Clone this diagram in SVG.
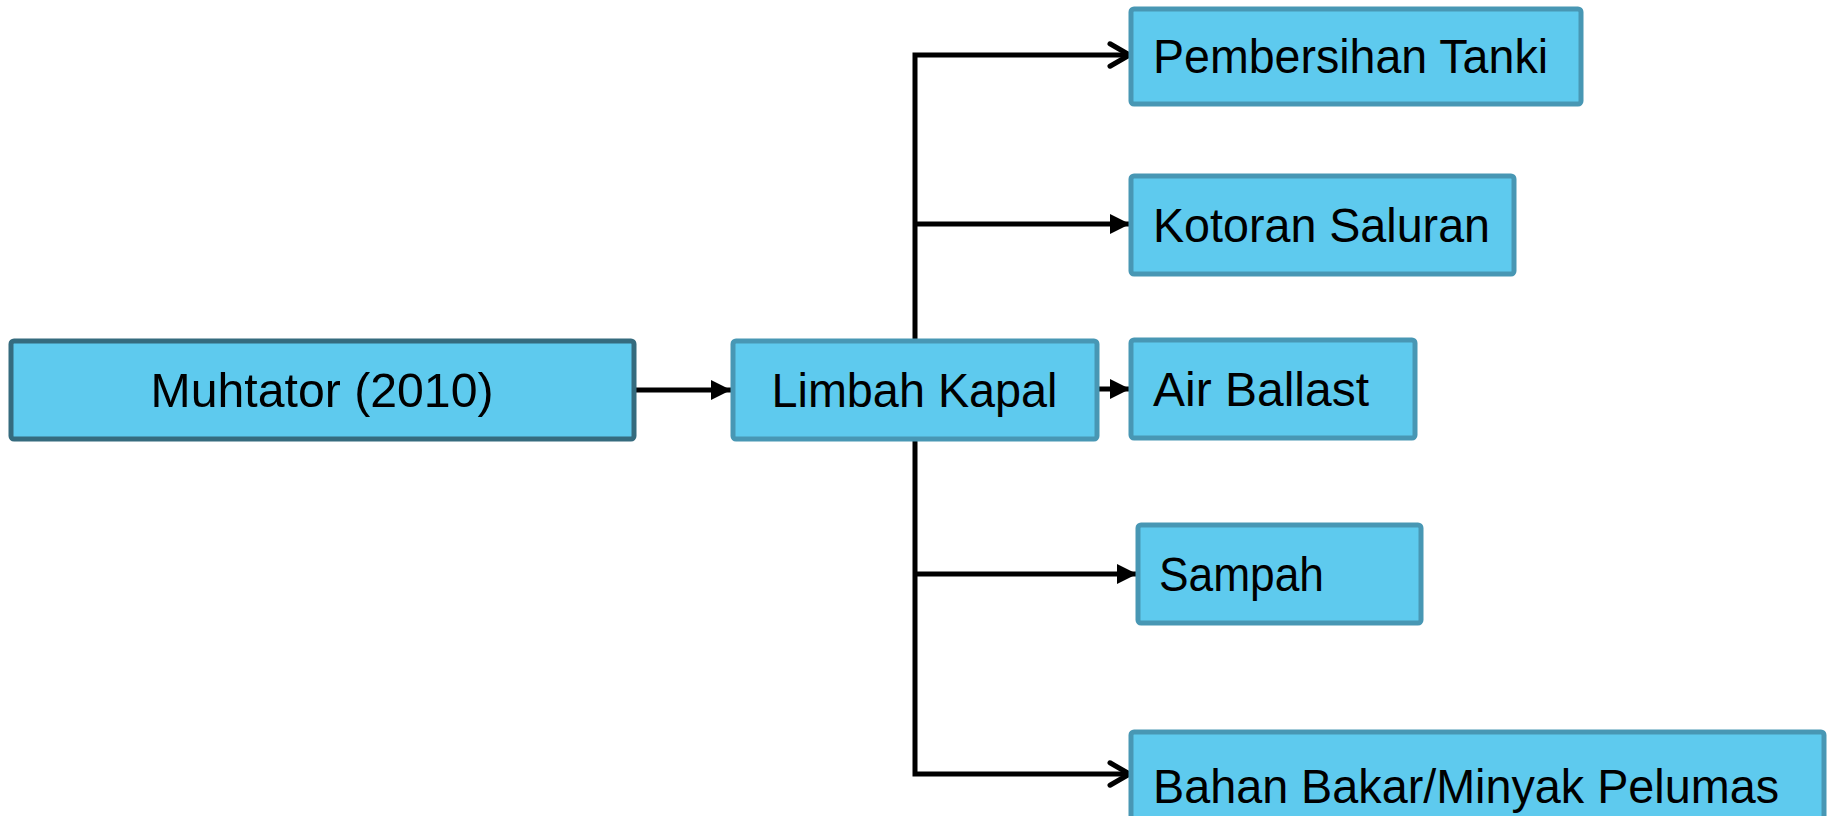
<svg xmlns="http://www.w3.org/2000/svg" width="1832" height="816" viewBox="0 0 1832 816">
  <style>
    .box { fill: #5ECAEE; stroke: #4897B4; stroke-width: 5; }
    .box.dark { stroke: #356B7E; }
    .lbl { font-family: "Liberation Sans", "DejaVu Sans", sans-serif; font-size: 48px; fill: #000; }
    .ln { fill: none; stroke: #000; stroke-width: 5; }
  </style>
  <defs>
    <!-- filled triangular head -->
    <marker id="tri" viewBox="0 0 10 10" refX="10" refY="5" markerWidth="4.2" markerHeight="4" markerUnits="strokeWidth" orient="auto">
      <path d="M0,0 L10,5 L0,10 Z" fill="#000"/>
    </marker>
    <!-- open chevron head -->
    <marker id="open" viewBox="0 0 12 12" refX="10.5" refY="6" markerWidth="6" markerHeight="6" markerUnits="strokeWidth" orient="auto">
      <path d="M2.5,1.5 L10.3,6 L2.5,10.5" fill="none" stroke="#000" stroke-width="2" stroke-linecap="round" stroke-linejoin="round"/>
    </marker>
  </defs>

  <rect width="1832" height="816" fill="#fff"/>

  <g id="connectors">
    <line class="ln" x1="634" y1="390" x2="731" y2="390" marker-end="url(#tri)"/>
    <line class="ln" x1="1097" y1="389" x2="1130" y2="389" marker-end="url(#tri)"/>
    <path class="ln" d="M915,341 V55 H1130" marker-end="url(#open)"/>
    <line class="ln" x1="915" y1="224" x2="1130" y2="224" marker-end="url(#tri)"/>
    <line class="ln" x1="915" y1="574" x2="1137" y2="574" marker-end="url(#tri)"/>
    <path class="ln" d="M915,439 V774 H1130" marker-end="url(#open)"/>
  </g>

  <g id="node-muhtator">
    <rect class="box dark" x="11" y="341" width="623" height="98" rx="3"/>
    <text class="lbl" x="322" y="407" text-anchor="middle" textLength="343" lengthAdjust="spacingAndGlyphs">Muhtator (2010)</text>
  </g>
  <g id="node-limbah-kapal">
    <rect class="box" x="733" y="341" width="364" height="98" rx="3"/>
    <text class="lbl" x="914.5" y="407" text-anchor="middle" textLength="286" lengthAdjust="spacingAndGlyphs">Limbah Kapal</text>
  </g>
  <g id="node-pembersihan-tanki">
    <rect class="box" x="1131" y="9" width="450" height="95" rx="3"/>
    <text class="lbl" x="1153" y="73" textLength="395" lengthAdjust="spacingAndGlyphs">Pembersihan Tanki</text>
  </g>
  <g id="node-kotoran-saluran">
    <rect class="box" x="1131" y="176" width="383" height="98" rx="3"/>
    <text class="lbl" x="1153" y="242" textLength="337" lengthAdjust="spacingAndGlyphs">Kotoran Saluran</text>
  </g>
  <g id="node-air-ballast">
    <rect class="box" x="1131" y="340" width="284" height="98" rx="3"/>
    <text class="lbl" x="1153" y="406" textLength="216" lengthAdjust="spacingAndGlyphs">Air Ballast</text>
  </g>
  <g id="node-sampah">
    <rect class="box" x="1138" y="525" width="283" height="98" rx="3"/>
    <text class="lbl" x="1159" y="591" textLength="165" lengthAdjust="spacingAndGlyphs">Sampah</text>
  </g>
  <g id="node-bahan-bakar">
    <rect class="box" x="1131" y="732" width="693" height="100" rx="3"/>
    <text class="lbl" x="1153" y="803" textLength="626" lengthAdjust="spacingAndGlyphs">Bahan Bakar/Minyak Pelumas</text>
  </g>
</svg>
